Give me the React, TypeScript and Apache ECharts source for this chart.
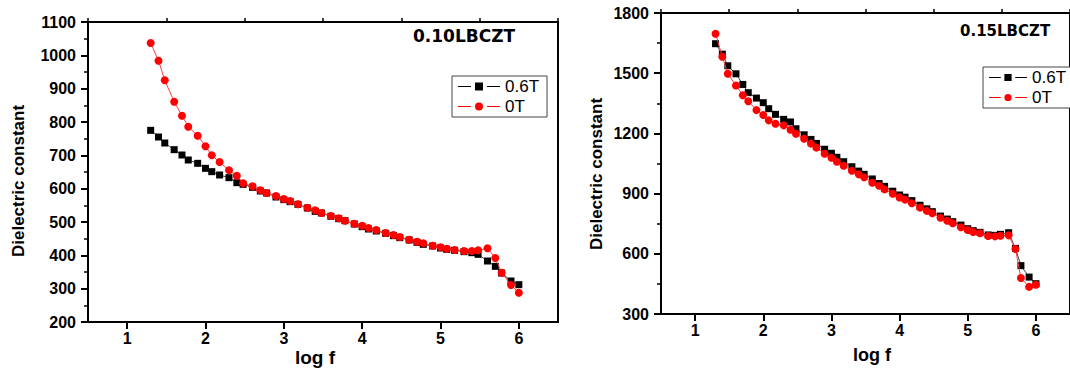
import React, { useEffect, useRef } from 'react';
import * as echarts from 'echarts';

// log f positions (20 Hz ... 1 MHz)
const logF = [
  1.30, 1.40, 1.48, 1.60, 1.70, 1.78, 1.90,
  2.00, 2.08, 2.18, 2.30, 2.40, 2.48, 2.60, 2.70, 2.78, 2.90,
  3.00, 3.08, 3.18, 3.30, 3.40, 3.48, 3.60, 3.70, 3.78, 3.90,
  4.00, 4.08, 4.18, 4.30, 4.40, 4.48, 4.60, 4.70, 4.78, 4.90,
  5.00, 5.08, 5.18, 5.30, 5.40, 5.48, 5.60, 5.70, 5.78, 5.90,
  6.00,
];

// 0.10LBCZT
const left06T = [
  775, 755, 737, 717, 701, 686, 676,
  661, 651, 641, 633, 618, 613, 604, 593, 587, 575,
  567, 561, 553, 542, 532, 527, 517, 510, 504, 494,
  486, 479, 473, 466, 459, 453, 446, 439, 433, 428,
  422, 418, 415, 411, 408, 403, 383, 367, 347, 323,
  312,
];
const left0T = [
  1037, 984, 925, 861, 819, 786, 759,
  727, 700, 680, 655, 639, 616, 607, 595, 587, 578,
  569, 563, 553, 543, 535, 527, 518, 511, 504, 495,
  489, 482, 476, 467, 461, 455, 447, 441, 436, 429,
  424, 420, 416, 413, 413, 415, 421, 392, 348, 311,
  288,
];

// 0.15LBCZT
const right06T = [
  1647, 1595, 1537, 1497, 1444, 1403, 1376,
  1353, 1323, 1295, 1270, 1257, 1223, 1193, 1170, 1150, 1121,
  1101, 1081, 1059, 1034, 1012, 996, 973, 950, 936, 912,
  893, 882, 865, 842, 824, 810, 788, 773, 760, 743,
  725, 715, 707, 694, 692, 697, 705, 627, 541, 484,
  451,
];
const right0T = [
  1697, 1582, 1497, 1439, 1390, 1360, 1316,
  1292, 1265, 1248, 1240, 1218, 1198, 1173, 1149, 1129, 1099,
  1079, 1059, 1039, 1014, 996, 981, 954, 939, 921, 899,
  881, 870, 852, 830, 814, 802, 780, 765, 752, 732,
  719, 709, 702, 689, 687, 690, 692, 624, 479, 435,
  446,
];

const majorX = [1, 2, 3, 4, 5, 6];
const minorX = [0.5, 1.5, 2.5, 3.5, 4.5, 5.5, 6.5];

const seriesNames = ['0.6T', '0T'];
const titles = ['0.10LBCZT', '0.15LBCZT'];
const xName = 'log f';
const yName = 'Dielectric constant';

const FONT = '"Liberation Sans", Arial, sans-serif';

const sqIcon = 'path://M0,3.5h13v1H0zM29,3.5h13v1H29zM17,0h8v8h-8z';
const cirIcon = 'path://M0,3.5h13v1H0zM29,3.5h13v1H29zM17,4a4,4 0 1,0 8,0a4,4 0 1,0 -8,0z';

const plain = (v: number) => String(v);

function mainX(gridIndex: number) {
  return {
    type: 'value', gridIndex, min: 0.5, max: 6.5,
    axisLine: { show: true, lineStyle: { color: '#000', width: 2 } },
    axisTick: { show: true, customValues: majorX, length: 7, lineStyle: { color: '#000', width: 2 } },
    axisLabel: { customValues: majorX, formatter: plain, color: '#000', fontWeight: 'bold', fontSize: 16, fontFamily: FONT, margin: 8 },
    splitLine: { show: false },
  };
}
function minorXAxis(gridIndex: number) {
  return {
    type: 'value', gridIndex, min: 0.5, max: 6.5,
    axisLine: { show: false },
    axisTick: { show: true, customValues: minorX, length: 4, lineStyle: { color: '#000', width: 1.5 } },
    axisLabel: { show: false },
    splitLine: { show: false },
  };
}
function yAx(gridIndex: number, min: number, max: number, interval: number) {
  return {
    type: 'value', gridIndex, min, max, interval,
    axisLine: { show: true, lineStyle: { color: '#000', width: 2 } },
    axisTick: { show: true, length: 7, lineStyle: { color: '#000', width: 2 } },
    minorTick: { show: true, splitNumber: 2, length: 4, lineStyle: { color: '#000', width: 1.5 } },
    axisLabel: { formatter: plain, color: '#000', fontWeight: 'bold', fontSize: 16, fontFamily: FONT, margin: 12 },
    splitLine: { show: false },
    minorSplitLine: { show: false },
  };
}

function legendAt(left: number, top: number, itemWidth: number) {
  return {
    left, top, orient: 'vertical', itemWidth, itemHeight: 8, itemGap: 3,
    padding: [2, 8, 2, 6], borderColor: '#444', borderWidth: 1, backgroundColor: '#fff',
    selectedMode: false,
    textStyle: { color: '#000', fontSize: 17, fontFamily: FONT, lineHeight: 16 },
    data: [
      { name: seriesNames[0], icon: sqIcon },
      { name: seriesNames[1], icon: cirIcon },
    ],
  };
}

function pairs(vals: number[]) {
  return logF.map((x, i) => [x, vals[i]]);
}

function lineSeries(name: string, xi: number, yi: number, vals: number[], black: boolean) {
  return {
    name, type: 'line', xAxisIndex: xi, yAxisIndex: yi, data: pairs(vals),
    symbol: black ? 'rect' : 'circle', symbolSize: black ? 7 : 8,
    itemStyle: { color: black ? '#000' : '#ff0000' },
    lineStyle: { color: black ? '#444' : '#ff4040', width: 1 },
    z: black ? 2 : 3,
  };
}

export default function App() {
  const ref = useRef<HTMLDivElement>(null);
  useEffect(() => {
    if (!ref.current) return;
    const chart = echarts.init(ref.current, undefined, { renderer: 'svg' });
    chart.setOption({
      animation: false,
      backgroundColor: '#fff',
      grid: [
        { left: 88, top: 22, width: 470, height: 300, show: true, borderColor: '#000', borderWidth: 2, backgroundColor: 'transparent' },
        { left: 661, top: 13, width: 420, height: 301, show: true, borderColor: '#000', borderWidth: 2, backgroundColor: 'transparent' },
      ],
      xAxis: [mainX(0), minorXAxis(0), mainX(1), minorXAxis(1)],
      yAxis: [yAx(0, 200, 1100, 100), yAx(1, 300, 1800, 300)],
      legend: [legendAt(452, 76, 42), legendAt(983, 67, 38)],
      series: [
        lineSeries(seriesNames[0], 0, 0, left06T, true),
        lineSeries(seriesNames[1], 0, 0, left0T, false),
        lineSeries(seriesNames[0], 2, 1, right06T, true),
        lineSeries(seriesNames[1], 2, 1, right0T, false),
      ],
      graphic: [
        { type: 'text', left: 413, top: 27, style: { text: titles[0], fill: '#000', font: 'bold 17px "DejaVu Sans", sans-serif' } },
        { type: 'text', left: 960, top: 23, style: { text: titles[1], fill: '#000', font: 'bold 15px "DejaVu Sans", sans-serif' } },
        { type: 'text', x: 18, y: 181, rotation: Math.PI / 2, style: { text: yName, fill: '#000', font: 'bold 17px "Liberation Sans", Arial, sans-serif', align: 'center', verticalAlign: 'middle' } },
        { type: 'text', x: 596, y: 174, rotation: Math.PI / 2, style: { text: yName, fill: '#000', font: 'bold 17px "Liberation Sans", Arial, sans-serif', align: 'center', verticalAlign: 'middle' } },
        { type: 'text', x: 315, y: 357, style: { text: xName, fill: '#000', font: 'bold 19px "Liberation Sans", Arial, sans-serif', align: 'center', verticalAlign: 'middle' } },
        { type: 'text', x: 872, y: 355, style: { text: xName, fill: '#000', font: 'bold 18px "Liberation Sans", Arial, sans-serif', align: 'center', verticalAlign: 'middle' } },
      ],
    });
    return () => chart.dispose();
  }, []);
  return <div ref={ref} style={{ position: 'absolute', left: 0, top: 0, width: 1070, height: 368 }} />;
}
